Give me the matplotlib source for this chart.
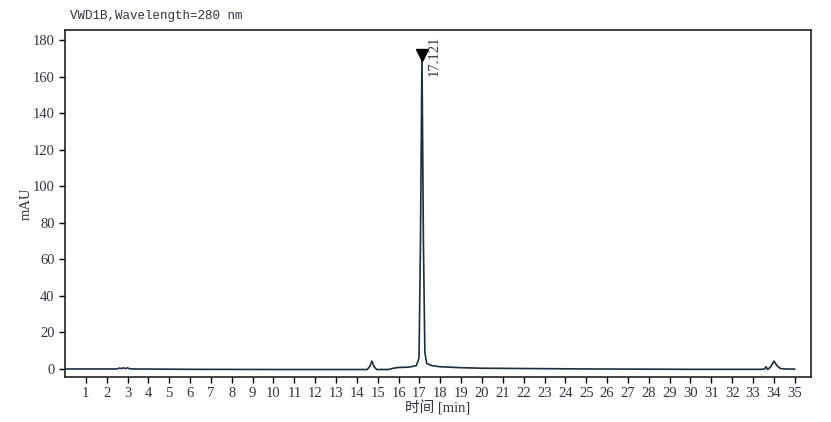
import matplotlib
matplotlib.use('Agg')
from matplotlib import pyplot as plt

plt.rcParams['font.family'] = ['Liberation Serif', 'Noto Sans CJK SC']

# trace points (min, mAU)
times = [0.0, 2.5, 2.6, 2.7, 2.8, 2.9, 3.0, 3.1, 3.25, 6.0, 10.0, 14.5,
         14.62, 14.72, 14.82, 14.95, 15.5, 15.75, 16.0, 16.5, 16.85, 16.98,
         17.05, 17.121, 17.19, 17.26, 17.35, 17.6, 18.0, 19.0, 20.0, 25.0,
         30.0, 33.4, 33.55, 33.62, 33.7, 33.85, 34.0, 34.15, 34.3, 34.5, 35.0]
mau = [0.0, 0.0, 0.5, 0.2, 0.6, 0.2, 0.6, 0.1, 0.0, -0.2, -0.3, -0.3,
       1.5, 4.3, 1.2, -0.3, -0.3, 0.4, 0.8, 1.0, 1.8, 6.0,
       70.0, 172.0, 70.0, 9.0, 3.0, 1.8, 1.2, 0.7, 0.4, 0.0,
       -0.2, -0.2, 0.0, 1.2, -0.3, 1.2, 4.3, 1.8, 0.3, 0.0, -0.1]

peak_rt = 17.121
peak_h = 172.0
xticks = list(range(1, 36))
yticks = list(range(0, 181, 20))

fig = plt.figure(figsize=(8.31, 4.22), dpi=100)
ax = fig.add_axes([65/831, 1-377/422, (811-65)/831, (377-30)/422])

ax.plot(times, mau, color='#1f2d3d', lw=1.2)
ax.plot([peak_rt], [peak_h], marker='v', color='black', ms=8, ls='none')
ax.annotate('%.3f' % peak_rt, (peak_rt, peak_h), xytext=(9, -1),
            textcoords='offset points', rotation=90, fontsize=10.5,
            ha='center', va='center', color='#333344')

ax.set_xlim(0, 35.78)
ax.set_ylim(-4.4, 185.5)
ax.set_xticks(xticks)
ax.set_yticks(yticks)
ax.tick_params(direction='out', length=4, width=1, labelsize=10.5,
               colors='black', labelcolor='#333344')
for s in ax.spines.values():
    s.set_linewidth(1.2)
    s.set_color('#222222')

ax.set_xlabel('时间 [min]', fontsize=10.5, color='#333344', labelpad=0)
ax.set_ylabel('mAU', fontsize=10.5, color='#333344', labelpad=0)
fig.text(70/831, 1-16/422, 'VWD1B,Wavelength=280 nm', family='Liberation Mono',
         fontsize=9, color='#333344', va='center', ha='left')

fig.savefig('out.png', dpi=100)
